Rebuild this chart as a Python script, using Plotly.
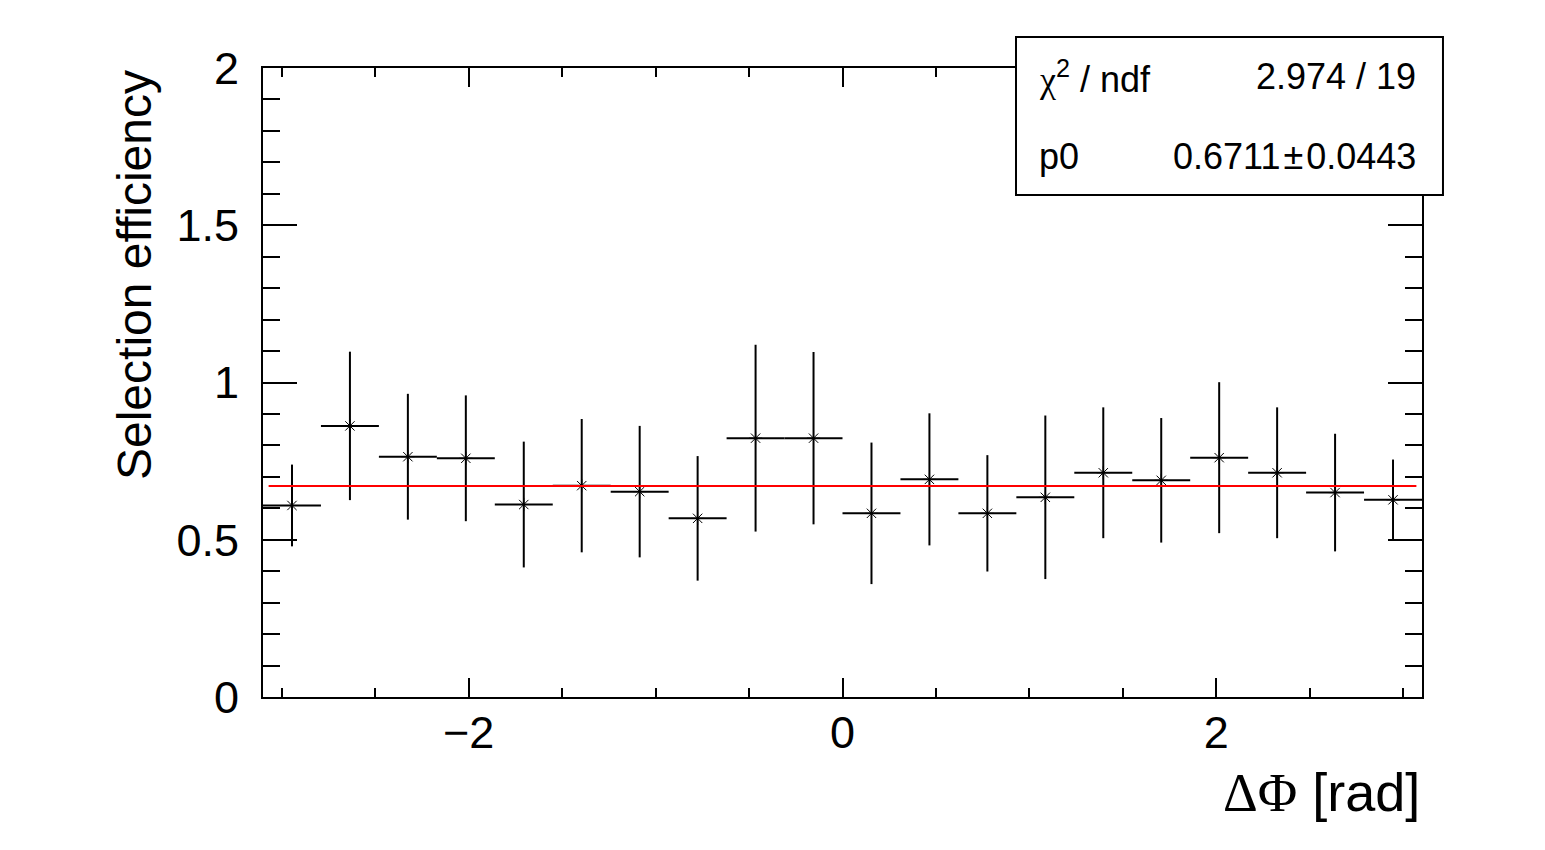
import plotly.graph_objects as go

# binned selection efficiency vs delta phi (20 bins on [-3.1, 3.1])
phi_centers = [-2.945, -2.635, -2.325, -2.015, -1.705, -1.395, -1.085, -0.775, -0.465, -0.155,
               0.155, 0.465, 0.775, 1.085, 1.395, 1.705, 2.015, 2.325, 2.635, 2.945]
bin_half_width = 0.155
efficiency = [0.609, 0.862, 0.764, 0.759, 0.612, 0.672, 0.653, 0.568, 0.823, 0.823,
              0.584, 0.692, 0.584, 0.635, 0.713, 0.689, 0.761, 0.713, 0.650, 0.627]
eff_err = [0.130, 0.236, 0.200, 0.200, 0.200, 0.212, 0.209, 0.198, 0.297, 0.274,
           0.225, 0.210, 0.185, 0.260, 0.208, 0.198, 0.240, 0.208, 0.187, 0.128]

# pol0 fit result
fit_p0 = 0.6711
fit_p0_err = 0.0443
fit_chi2 = 2.974
fit_ndf = 19
fit_range = [-3.07, 3.07]

FONT = "Liberation Sans"
SERIF = "Liberation Serif"

fig = go.Figure()

fig.add_trace(go.Scatter(
    x=phi_centers,
    y=efficiency,
    mode="markers",
    marker=dict(symbol="asterisk-open", size=11, color="black", line=dict(width=1, color="black")),
    error_y=dict(type="data", array=eff_err, thickness=2, width=0, color="black"),
    error_x=dict(type="constant", value=bin_half_width, thickness=2, width=0, color="black"),
    showlegend=False,
))

fig.add_trace(go.Scatter(
    x=fit_range,
    y=[fit_p0, fit_p0],
    mode="lines",
    line=dict(color="#ff0000", width=2),
    showlegend=False,
))

fig.update_xaxes(
    range=[-3.1, 3.1],
    showline=True, linecolor="black", linewidth=2, mirror="ticks",
    ticks="inside", ticklen=19, tickwidth=2, tickcolor="black",
    tick0=0, dtick=2,
    minor=dict(ticks="inside", ticklen=9, tickwidth=2, tickcolor="black", dtick=0.5, tick0=0),
    showgrid=False, zeroline=False,
    tickfont=dict(family=FONT, size=45, color="black"),
    ticklabelstandoff=-5,
)
fig.update_yaxes(
    range=[0, 2],
    showline=True, linecolor="black", linewidth=2, mirror="ticks",
    ticks="inside", ticklen=34, tickwidth=2, tickcolor="black",
    tick0=0, dtick=0.5,
    minor=dict(ticks="inside", ticklen=17, tickwidth=2, tickcolor="black", dtick=0.1, tick0=0),
    showgrid=False, zeroline=False,
    tickfont=dict(family=FONT, size=45, color="black"),
    ticklabelstandoff=13,
)

# stats box
fig.add_shape(type="rect", xref="paper", yref="paper",
              x0=0.6497, x1=1.0181, y0=0.798, y1=1.0493,
              fillcolor="white", line=dict(color="black", width=2), layer="above")

stat_font = dict(family=FONT, size=36, color="black")
fig.add_annotation(xref="paper", yref="paper", x=0.6678, y=0.986, xanchor="left", yanchor="middle",
                   text=f"<span style='font-family:{SERIF}'>χ</span><sup>2</sup> / ndf",
                   showarrow=False, font=stat_font)
fig.add_annotation(xref="paper", yref="paper", x=0.9966, y=0.986, xanchor="right", yanchor="middle",
                   text=f"{fit_chi2:.3f} / {fit_ndf}", showarrow=False, font=stat_font)
fig.add_annotation(xref="paper", yref="paper", x=0.6678, y=0.859, xanchor="left", yanchor="middle",
                   text="p0", showarrow=False, font=stat_font)
fig.add_annotation(xref="paper", yref="paper", x=0.9966, y=0.859, xanchor="right", yanchor="middle",
                   text=f"{fit_p0:.4f}\u200a±\u200a{fit_p0_err:.4f}", showarrow=False, font=stat_font)

# axis titles (ROOT style, right aligned)
fig.add_annotation(xref="paper", yref="paper", x=1.0, y=-0.1526, xanchor="right", yanchor="middle",
                   text=f"<span style='font-family:{SERIF}'>ΔΦ</span> [rad]",
                   showarrow=False, font=dict(family=FONT, size=54, color="black"))
fig.add_annotation(xref="paper", yref="paper", x=-0.1113, y=1.0, xanchor="center", yanchor="top",
                   text="Selection efficiency", textangle=-90,
                   showarrow=False, font=dict(family=FONT, size=48, color="black"))

# page body adds ~7px offset, compensate in the margins
fig.update_layout(
    width=1545, height=850,
    margin=dict(l=255, r=131, t=60, b=161),
    paper_bgcolor="white", plot_bgcolor="white",
    font=dict(family=FONT, color="black"),
)

fig.write_html("out.html")
